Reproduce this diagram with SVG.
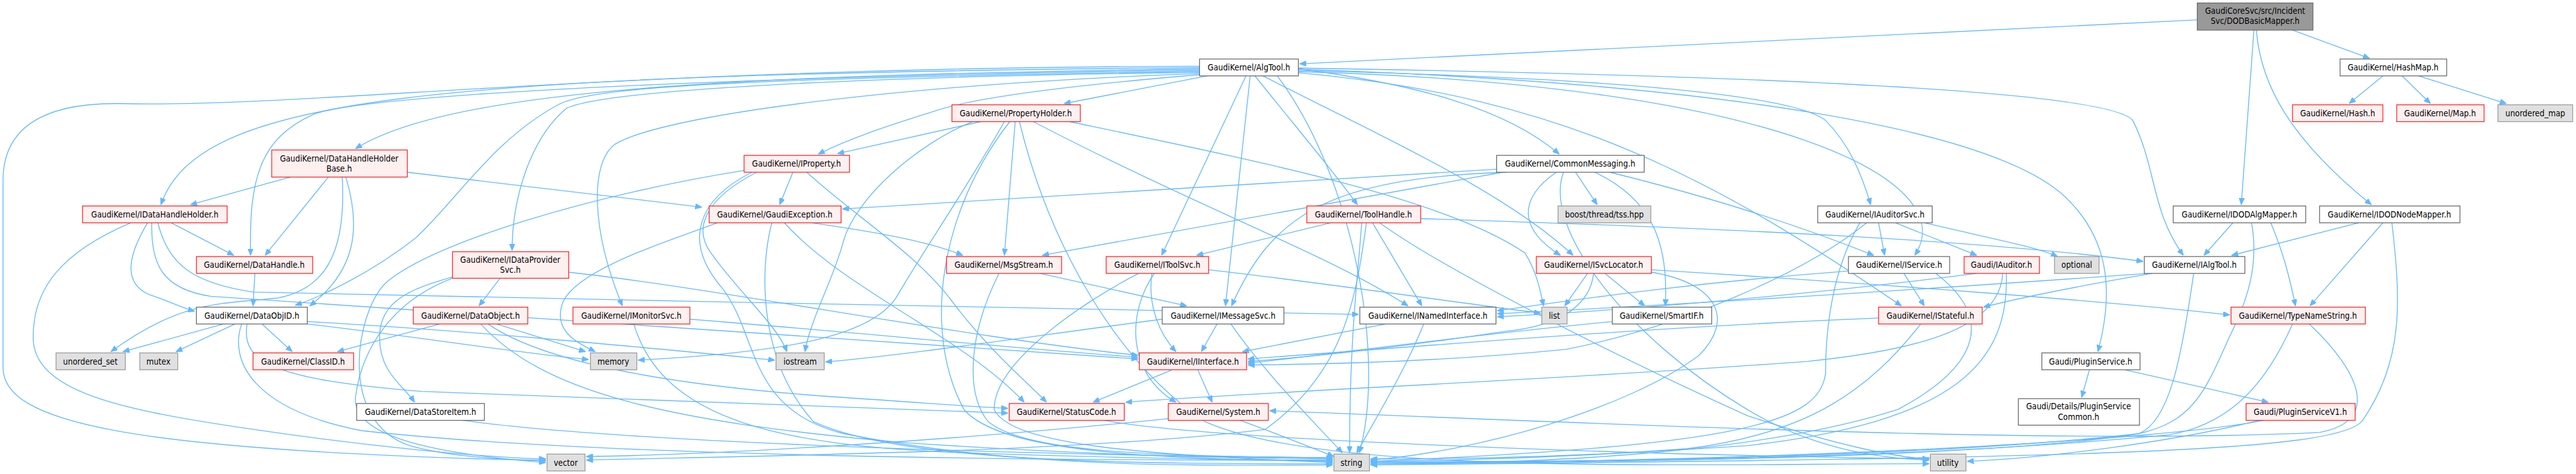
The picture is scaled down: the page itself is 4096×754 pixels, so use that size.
<svg xmlns="http://www.w3.org/2000/svg" width="4096" height="754" viewBox="0 0 4096 754">
<defs>
<marker id="a" viewBox="0 0 11 9" refX="11" refY="4.5" markerWidth="11" markerHeight="9" markerUnits="userSpaceOnUse" orient="auto"><path d="M0,0 L11,4.5 L0,9 z" fill="#63b8ff" stroke="#63b8ff" stroke-width="1"/></marker>
</defs>
<style>
.r{fill:#fff0f0;stroke:#ff2020;stroke-width:1.3}
.w{fill:#ffffff;stroke:#666666;stroke-width:1.3}
.g{fill:#e0e0e0;stroke:#999999;stroke-width:1.3}
.d{fill:#999999;stroke:#666666;stroke-width:1.3}
text{font-family:"DejaVu Sans Condensed","Liberation Sans",sans-serif;font-size:14px;text-anchor:middle;fill:#000}
#edges path{fill:none;stroke:#63b8ff;stroke-width:1.4;marker-end:url(#a)}
</style>
<rect width="4096" height="754" fill="#fff"/>
<g transform="scale(0.958)">
<g id="edges">
<path d="M3647,33 L2157,106"/>
<path d="M3805,50 L3933,97"/>
<path d="M3741,50 L3720,340"/>
<path d="M3745,50 C3752,140 3800,230 3936,340"/>
<path d="M3955,126 L3899,172"/>
<path d="M3987,126 L4034,172"/>
<path d="M4014,126 L4160,172"/>
<path d="M1991,114 C1300,125 760,140 590,247"/>
<path d="M1991,112 C700,125 330,160 267,340"/>
<path d="M1991,110 C1000,112 500,180 200,172 C60,170 5,220 5,300 L5,610 C5,700 200,748 906,765"/>
<path d="M1991,116 C1100,130 600,160 520,190 C430,230 413,300 416,424"/>
<path d="M1991,118 C1300,130 1000,140 930,172 C820,230 760,330 690,395 C620,450 540,490 490,507"/>
<path d="M1991,120 C1400,128 1000,150 940,180 C880,230 850,330 850,416"/>
<path d="M1991,122 C1500,140 1100,190 1020,240 C980,270 980,380 1033,508"/>
<path d="M1991,124 C1800,140 1620,160 1550,185 C1470,210 1410,230 1358,256"/>
<path d="M2004,126 L1766,172"/>
<path d="M2155,114 C2350,140 2500,180 2588,256"/>
<path d="M2083,126 C2150,210 2210,280 2253,340"/>
<path d="M2068,126 L1928,424"/>
<path d="M2075,126 L2034,508"/>
<path d="M2096,126 C2300,230 2500,320 2611,424"/>
<path d="M2155,117 C2700,130 2980,160 3030,200 C3070,240 3090,290 3105,340"/>
<path d="M2155,119 C2950,140 3260,300 3178,424"/>
<path d="M2155,121 C2600,160 2850,300 3156,508"/>
<path d="M2155,113 C2900,125 3500,150 3540,200 C3580,280 3570,350 3624,424"/>
<path d="M2155,115 C2900,140 3300,220 3420,320 C3500,390 3510,480 3482,584"/>
<path d="M2120,126 C2250,300 2300,600 2256,752"/>
<path d="M1628,202 L1390,255"/>
<path d="M1685,202 L1667,424"/>
<path d="M1614,202 C1520,240 1420,330 1400,400 C1385,460 1345,530 1336,584"/>
<path d="M1667,202 C1600,320 1530,420 1490,490 C1450,560 1300,585 1059,598"/>
<path d="M1676,202 C1560,350 1530,550 1600,680 C1660,750 1900,762 2212,766"/>
<path d="M1692,202 C1740,400 1850,600 2000,700 C2200,790 2800,770 3202,770"/>
<path d="M1715,202 C2000,350 2200,420 2337,508"/>
<path d="M1775,202 C2100,270 2400,330 2531,420 C2550,450 2556,480 2562,508"/>
<path d="M482,294 L316,340"/>
<path d="M676,286 L1165,344"/>
<path d="M545,294 L440,424"/>
<path d="M568,294 C575,420 540,480 460,495 C360,505 300,500 184,584"/>
<path d="M574,294 C600,380 590,450 514,508"/>
<path d="M1316,286 L1294,340"/>
<path d="M1339,286 C1420,360 1520,420 1580,500 C1640,580 1700,630 1737,668"/>
<path d="M1256,286 C1170,330 1150,380 1180,420 C1230,490 1290,540 1306,584"/>
<path d="M1248,286 C1160,330 1130,400 1200,480 C1260,560 1240,680 1400,720 C1700,780 2000,772 2212,772"/>
<path d="M1235,283 C1000,320 720,400 640,470 C590,520 560,700 680,740 C750,760 850,764 906,764"/>
<path d="M2484,281 L1398,347"/>
<path d="M2494,286 L1730,424"/>
<path d="M2500,286 C2200,296 2110,360 2044,508"/>
<path d="M2615,286 L2651,340"/>
<path d="M2583,286 C2520,330 2520,380 2590,424"/>
<path d="M2647,286 C2740,330 2770,400 2764,508"/>
<path d="M2672,286 C2850,330 3000,380 3110,424"/>
<path d="M2595,286 C2560,380 2700,560 2900,680 C3000,740 3100,760 3202,764"/>
<path d="M284,370 L388,424"/>
<path d="M245,370 C215,420 200,470 250,490 C280,500 300,510 323,517"/>
<path d="M217,370 C100,420 55,480 55,560 C55,650 200,680 400,710 C600,740 800,760 906,762"/>
<path d="M252,370 C250,440 270,480 350,492 C700,520 1400,560 1889,596"/>
<path d="M262,370 C280,440 320,470 420,485 C1000,500 1800,510 2255,522"/>
<path d="M1191,370 C1080,410 960,450 935,500 C915,550 960,570 988,584"/>
<path d="M1347,370 C1450,385 1540,400 1598,424"/>
<path d="M1302,370 C1400,480 1600,560 1700,668"/>
<path d="M1281,370 C1260,450 1260,600 1350,700 C1500,770 1900,770 2212,770"/>
<path d="M2209,370 L1986,424"/>
<path d="M2358,363 C2900,380 3300,400 3557,434"/>
<path d="M2260,370 C2255,450 2240,550 2240,752"/>
<path d="M2278,370 L2360,508"/>
<path d="M2268,370 C2250,500 2230,620 2100,713 C1800,750 1300,756 973,764"/>
<path d="M2290,370 C2400,450 2700,600 2900,690 C3050,740 3150,760 3202,762"/>
<path d="M3118,370 L3128,424"/>
<path d="M3146,370 L3281,424"/>
<path d="M3194,370 C3300,395 3380,410 3415,426"/>
<path d="M3087,370 C3040,450 3030,550 3030,620 C3020,700 2900,740 2275,766"/>
<path d="M3098,370 C3000,450 2800,540 2600,580 C2400,600 2200,605 2071,606"/>
<path d="M3706,370 L3658,424"/>
<path d="M3737,370 C3750,440 3730,500 3700,560 C3660,650 3640,700 3550,720 C3200,760 2600,768 2275,768"/>
<path d="M3769,370 C3790,420 3800,460 3810,508"/>
<path d="M3915,370 L3704,424"/>
<path d="M3955,370 L3834,508"/>
<path d="M3970,370 C3985,500 3990,600 3920,700 C3870,750 3500,760 2275,772"/>
<path d="M423,454 L420,508"/>
<path d="M830,462 L795,508"/>
<path d="M751,460 C680,480 630,500 630,560 C630,620 670,640 688,668"/>
<path d="M944,452 C1200,480 1600,560 1889,590"/>
<path d="M751,462 C650,500 600,580 590,660 C585,720 700,752 906,768"/>
<path d="M371,538 L204,584"/>
<path d="M390,538 L292,584"/>
<path d="M435,538 L485,584"/>
<path d="M510,534 C800,550 1100,580 1286,598"/>
<path d="M510,538 C700,560 850,585 977,597"/>
<path d="M401,538 C380,600 420,680 600,715 C1000,760 1800,765 2212,764"/>
<path d="M410,538 C400,600 450,630 700,650 C1100,665 1450,676 1673,686"/>
<path d="M730,538 L560,584"/>
<path d="M824,538 L972,584"/>
<path d="M810,538 C900,600 1100,640 1400,660 C1550,670 1620,676 1673,678"/>
<path d="M798,538 C900,650 1100,700 1500,735 C1800,755 2000,760 2212,762"/>
<path d="M1145,530 C1400,550 1700,580 1889,593"/>
<path d="M1052,538 C1100,700 1300,740 1600,752 C1900,762 2100,764 2212,764"/>
<path d="M1726,454 L1970,508"/>
<path d="M1658,454 C1610,550 1600,650 1640,700 C1700,750 1900,758 2212,760"/>
<path d="M1912,454 C1905,500 1920,550 1952,584"/>
<path d="M1916,454 C1870,520 1870,620 1952,668"/>
<path d="M1890,454 C1800,500 1650,600 1650,680 C1680,740 1900,755 2212,768"/>
<path d="M2006,448 C2200,470 2400,500 2557,520"/>
<path d="M2020,538 L1994,584"/>
<path d="M1929,530 C1700,560 1500,590 1370,601"/>
<path d="M2043,538 C2100,620 2180,700 2228,752"/>
<path d="M2635,454 L2597,508"/>
<path d="M2645,454 C2640,500 2600,540 2500,550 C2300,580 2150,595 2071,600"/>
<path d="M2664,454 L2730,508"/>
<path d="M2741,448 C3100,470 3500,500 3701,523"/>
<path d="M2741,452 C2850,470 2880,530 2820,590 C2700,680 2450,750 2275,764"/>
<path d="M2300,538 L2062,584"/>
<path d="M2363,538 C2330,620 2280,700 2252,752"/>
<path d="M2676,534 C2400,560 2200,590 2071,603"/>
<path d="M3068,450 C2800,470 2600,500 2485,516"/>
<path d="M3160,454 L3194,508"/>
<path d="M3213,454 C3300,520 3300,600 3150,680 C2900,760 2500,770 2275,770"/>
<path d="M3281,454 C3000,490 2700,515 2485,526"/>
<path d="M3324,454 C3320,540 3200,580 3000,600 C2600,630 2100,650 1868,668"/>
<path d="M3330,454 C3335,600 3250,700 2900,740 C2600,760 2400,765 2275,766"/>
<path d="M3118,528 C2700,545 2300,580 2071,596"/>
<path d="M3188,538 C3100,650 3000,720 2800,745 C2600,760 2400,762 2275,762"/>
<path d="M3572,454 C3450,475 3350,495 3292,510"/>
<path d="M3565,454 C3200,480 2800,505 2485,521"/>
<path d="M3641,454 C3620,600 3600,700 3550,720 C3300,760 2700,768 2275,770"/>
<path d="M3833,538 C3920,620 3950,700 3850,718 C3400,740 2600,700 2107,682"/>
<path d="M3805,538 C3760,640 3700,705 3600,722 C3200,760 2700,768 2275,766"/>
<path d="M3468,614 L3455,660"/>
<path d="M3526,614 L3765,668"/>
<path d="M3757,698 C3600,730 3000,765 2275,770"/>
<path d="M3750,698 C3600,735 3400,760 3265,766"/>
<path d="M1833,698 C2000,730 2700,755 3202,762"/>
<path d="M1940,695 C1600,730 1200,755 973,758"/>
<path d="M2058,698 C2120,720 2180,745 2214,758"/>
<path d="M1946,614 L1814,668"/>
<path d="M1988,614 L2012,668"/>
<path d="M768,698 C1000,730 1600,755 2212,760"/>
</g>
<g id="n_dod"><rect class="d" x="3647" y="5" width="192" height="45"/><text x="3743" y="23">GaudiCoreSvc/src/Incident</text><text x="3743" y="40">Svc/DODBasicMapper.h</text></g>
<g id="n_algtool"><rect class="w" x="1991" y="98" width="164" height="28"/><text x="2073" y="117">GaudiKernel/AlgTool.h</text></g>
<g id="n_hashmap"><rect class="w" x="3884" y="98" width="177" height="28"/><text x="3972" y="117">GaudiKernel/HashMap.h</text></g>
<g id="n_propertyholder"><rect class="r" x="1580" y="174" width="213" height="28"/><text x="1686" y="193">GaudiKernel/PropertyHolder.h</text></g>
<g id="n_hash"><rect class="r" x="3805" y="174" width="150" height="28"/><text x="3880" y="193">GaudiKernel/Hash.h</text></g>
<g id="n_map"><rect class="r" x="3978" y="174" width="145" height="28"/><text x="4050" y="193">GaudiKernel/Map.h</text></g>
<g id="n_unordered_map"><rect class="g" x="4146" y="174" width="124" height="28"/><text x="4208" y="193">unordered_map</text></g>
<g id="n_dhhb"><rect class="r" x="451" y="249" width="225" height="45"/><text x="563" y="268">GaudiKernel/DataHandleHolder</text><text x="563" y="285">Base.h</text></g>
<g id="n_iproperty"><rect class="r" x="1235" y="258" width="175" height="28"/><text x="1322" y="277">GaudiKernel/IProperty.h</text></g>
<g id="n_commonmessaging"><rect class="w" x="2484" y="258" width="245" height="28"/><text x="2606" y="277">GaudiKernel/CommonMessaging.h</text></g>
<g id="n_idatahandleholder"><rect class="r" x="137" y="342" width="240" height="28"/><text x="257" y="361">GaudiKernel/IDataHandleHolder.h</text></g>
<g id="n_gaudiexception"><rect class="r" x="1177" y="342" width="219" height="28"/><text x="1286" y="361">GaudiKernel/GaudiException.h</text></g>
<g id="n_toolhandle"><rect class="r" x="2169" y="342" width="189" height="28"/><text x="2263" y="361">GaudiKernel/ToolHandle.h</text></g>
<g id="n_tss"><rect class="g" x="2586" y="342" width="154" height="28"/><text x="2663" y="361">boost/thread/tss.hpp</text></g>
<g id="n_iauditorsvc"><rect class="w" x="3017" y="342" width="190" height="28"/><text x="3112" y="361">GaudiKernel/IAuditorSvc.h</text></g>
<g id="n_idodalgmapper"><rect class="w" x="3607" y="342" width="220" height="28"/><text x="3717" y="361">GaudiKernel/IDODAlgMapper.h</text></g>
<g id="n_idodnodemapper"><rect class="w" x="3850" y="342" width="233" height="28"/><text x="3966" y="361">GaudiKernel/IDODNodeMapper.h</text></g>
<g id="n_datahandle"><rect class="r" x="326" y="426" width="193" height="28"/><text x="422" y="445">GaudiKernel/DataHandle.h</text></g>
<g id="n_idataprovidersvc"><rect class="r" x="751" y="418" width="193" height="44"/><text x="847" y="436">GaudiKernel/IDataProvider</text><text x="847" y="453">Svc.h</text></g>
<g id="n_msgstream"><rect class="r" x="1571" y="426" width="191" height="28"/><text x="1666" y="445">GaudiKernel/MsgStream.h</text></g>
<g id="n_itoolsvc"><rect class="r" x="1836" y="426" width="170" height="28"/><text x="1921" y="445">GaudiKernel/IToolSvc.h</text></g>
<g id="n_isvclocator"><rect class="r" x="2550" y="426" width="191" height="28"/><text x="2645" y="445">GaudiKernel/ISvcLocator.h</text></g>
<g id="n_iservice"><rect class="w" x="3068" y="426" width="168" height="28"/><text x="3152" y="445">GaudiKernel/IService.h</text></g>
<g id="n_iauditor"><rect class="r" x="3260" y="426" width="125" height="28"/><text x="3322" y="445">Gaudi/IAuditor.h</text></g>
<g id="n_optional"><rect class="g" x="3410" y="426" width="74" height="28"/><text x="3447" y="445">optional</text></g>
<g id="n_ialgtool"><rect class="w" x="3559" y="426" width="167" height="28"/><text x="3642" y="445">GaudiKernel/IAlgTool.h</text></g>
<g id="n_dataobjid"><rect class="w" x="326" y="510" width="184" height="28"/><text x="418" y="529">GaudiKernel/DataObjID.h</text></g>
<g id="n_dataobject"><rect class="r" x="686" y="510" width="190" height="28"/><text x="781" y="529">GaudiKernel/DataObject.h</text></g>
<g id="n_imonitorsvc"><rect class="r" x="951" y="510" width="194" height="28"/><text x="1048" y="529">GaudiKernel/IMonitorSvc.h</text></g>
<g id="n_imessagesvc"><rect class="w" x="1929" y="510" width="202" height="28"/><text x="2030" y="529">GaudiKernel/IMessageSvc.h</text></g>
<g id="n_inamedinterface"><rect class="w" x="2257" y="510" width="226" height="28"/><text x="2370" y="529">GaudiKernel/INamedInterface.h</text></g>
<g id="n_list"><rect class="g" x="2559" y="510" width="42" height="28"/><text x="2580" y="529">list</text></g>
<g id="n_smartif"><rect class="w" x="2676" y="510" width="165" height="28"/><text x="2758" y="529">GaudiKernel/SmartIF.h</text></g>
<g id="n_istateful"><rect class="r" x="3118" y="510" width="172" height="28"/><text x="3204" y="529">GaudiKernel/IStateful.h</text></g>
<g id="n_typenamestring"><rect class="r" x="3703" y="510" width="223" height="28"/><text x="3814" y="529">GaudiKernel/TypeNameString.h</text></g>
<g id="n_unordered_set"><rect class="g" x="93" y="586" width="115" height="28"/><text x="150" y="605">unordered_set</text></g>
<g id="n_mutex"><rect class="g" x="232" y="586" width="63" height="28"/><text x="263" y="605">mutex</text></g>
<g id="n_classid"><rect class="r" x="420" y="586" width="167" height="28"/><text x="503" y="605">GaudiKernel/ClassID.h</text></g>
<g id="n_memory"><rect class="g" x="980" y="586" width="77" height="28"/><text x="1018" y="605">memory</text></g>
<g id="n_iostream"><rect class="g" x="1288" y="586" width="80" height="28"/><text x="1328" y="605">iostream</text></g>
<g id="n_iinterface"><rect class="r" x="1891" y="586" width="178" height="28"/><text x="1980" y="605">GaudiKernel/IInterface.h</text></g>
<g id="n_pluginservice"><rect class="w" x="3389" y="586" width="163" height="28"/><text x="3470" y="605">Gaudi/PluginService.h</text></g>
<g id="n_datastoreitem"><rect class="w" x="592" y="670" width="212" height="28"/><text x="698" y="689">GaudiKernel/DataStoreItem.h</text></g>
<g id="n_statuscode"><rect class="r" x="1675" y="670" width="191" height="28"/><text x="1770" y="689">GaudiKernel/StatusCode.h</text></g>
<g id="n_system"><rect class="r" x="1939" y="670" width="166" height="28"/><text x="2022" y="689">GaudiKernel/System.h</text></g>
<g id="n_pscommon"><rect class="w" x="3350" y="662" width="201" height="44"/><text x="3450" y="680">Gaudi/Details/PluginService</text><text x="3450" y="697">Common.h</text></g>
<g id="n_psv1"><rect class="r" x="3728" y="670" width="181" height="28"/><text x="3818" y="689">Gaudi/PluginServiceV1.h</text></g>
<g id="n_vector"><rect class="g" x="908" y="754" width="63" height="28"/><text x="939" y="773">vector</text></g>
<g id="n_string"><rect class="g" x="2214" y="754" width="59" height="28"/><text x="2243" y="773">string</text></g>
<g id="n_utility"><rect class="g" x="3204" y="754" width="59" height="28"/><text x="3233" y="773">utility</text></g>
</g>
</svg>
